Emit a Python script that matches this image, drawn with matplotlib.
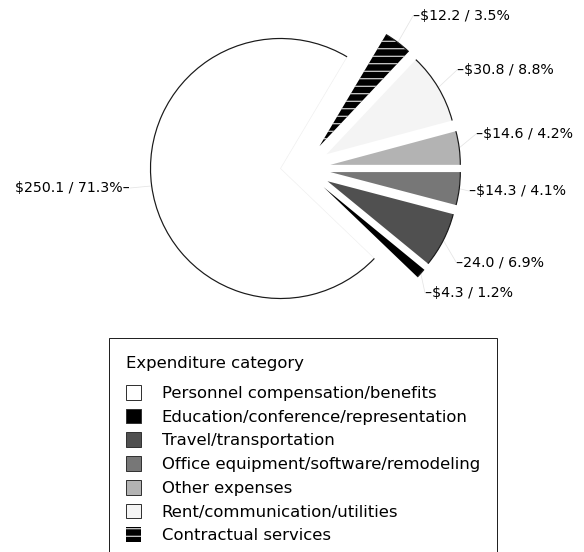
import matplotlib
matplotlib.use("Agg")
import numpy as np
import matplotlib.pyplot as plt
from matplotlib.patches import Arc, Patch

# ---------------- data ----------------
categories = [
    "Personnel compensation/benefits",
    "Education/conference/representation",
    "Travel/transportation",
    "Office equipment/software/remodeling",
    "Other expenses",
    "Rent/communication/utilities",
    "Contractual services",
]
amounts = [250.1, 4.3, 24.0, 14.3, 14.6, 30.8, 12.2]
percents = [71.3, 1.2, 6.9, 4.1, 4.2, 8.8, 3.5]
currency = ["$", "$", "", "$", "$", "$", "$"]
legend_title = "Expenditure category"

# ---------------- style / layout ----------------
colors = ["white", "black", "#505050", "#777777", "#b3b3b3", "#f4f4f4", "black"]
hatches = [None, None, None, None, None, None, "--"]
explode = [0, 0.215, 0.215, 0.215, 0.215, 0.215, 0.215]
group_shift = 0.17
# label anchor positions in pixels (x, y, ha)
label_pos_px = [(130, 188, "right"), (425, 293, "left"), (456, 262, "left"),
                (469, 191, "left"), (476, 134, "left"), (457, 70, "left"),
                (413, 16, "left")]

DPI = 90
W, H = 584, 552
R_PX = 130.0
CX, CY = 280.5, 168.5

plt.rcParams["font.family"] = ["DejaVu Sans"]
plt.rcParams["hatch.linewidth"] = 0.8

fig = plt.figure(figsize=(W / DPI, H / DPI), dpi=DPI)
ax = fig.add_axes([0, 0, 1, 1])


def px(x, y):
    return ((x - CX) / R_PX, (CY - y) / R_PX)


total = sum(amounts)
start = 360.0 * sum(amounts[4:]) / total

w1, _ = ax.pie(amounts, colors=colors, startangle=start, radius=1,
               center=(0, 0), wedgeprops=dict(linewidth=0))
w2, _ = ax.pie(amounts, colors=colors, startangle=start, radius=1,
               center=(group_shift, 0), explode=explode,
               wedgeprops=dict(linewidth=0))

for i, w in enumerate(w1):
    if i != 0:
        w.set_visible(False)
w2[0].set_visible(False)

w1[0].set_edgecolor("#eeeeee")
w1[0].set_linewidth(0.5)

wedges = [w1[0]] + list(w2[1:])
for i, w in enumerate(wedges):
    if hatches[i]:
        w.set_hatch(hatches[i])
        w.set_edgecolor("white")
        w.set_linewidth(0)

# outer arcs
for i, w in enumerate(wedges):
    arc = Arc(w.center, 2 * w.r, 2 * w.r, theta1=w.theta1, theta2=w.theta2,
              color="#1a1a1a", lw=0.95, zorder=3)
    ax.add_patch(arc)

# labels and leader lines
for i, w in enumerate(wedges):
    m = np.deg2rad((w.theta1 + w.theta2) / 2)
    cx, cy = w.center
    ex, ey = cx + w.r * np.cos(m), cy + w.r * np.sin(m)
    lx, ly, ha = label_pos_px[i]
    tx, ty = px(lx, ly)
    ax.plot([ex, tx], [ey, ty], color="#e4e4e4", lw=0.6, zorder=1)
    txt = f"{currency[i]}{amounts[i]:.1f} / {percents[i]:.1f}%"
    txt = txt + "\u2013" if ha == "right" else "\u2013" + txt
    ax.text(tx, ty, txt, ha=ha, va="center", fontsize=11.3, color="black",
            parse_math=False)

x0, _ = px(0, 0)
x1, _ = px(W, 0)
ax.set_xlim(x0, x1)
ax.set_ylim((CY - H) / R_PX, CY / R_PX)
ax.set_aspect("equal", adjustable="box")
ax.axis("off")

# legend
handles = []
for i, w in enumerate(wedges):
    if hatches[i]:
        handles.append(Patch(facecolor=w.get_facecolor(), edgecolor="white",
                             linewidth=0, hatch=hatches[i]))
    else:
        handles.append(Patch(facecolor=w.get_facecolor(), edgecolor="#333333",
                             linewidth=0.8))

LEG_FS = 13.2
leg = fig.legend(handles, categories, loc="upper left",
                 bbox_to_anchor=(108.5 / W, 1 - 338.2 / H),
                 bbox_transform=fig.transFigure, borderaxespad=0,
                 borderpad=1.05, fontsize=LEG_FS, title=legend_title,
                 title_fontsize=LEG_FS, alignment="left", handlelength=0.92,
                 handleheight=1.0, handletextpad=1.25, labelspacing=0.467,
                 frameon=True, fancybox=False, framealpha=1,
                 edgecolor="#222222")
leg.get_frame().set_linewidth(0.8)
# extra gap between title and entries
leg._legend_box.sep = 11.5

fig.savefig("out.png", dpi=DPI)
